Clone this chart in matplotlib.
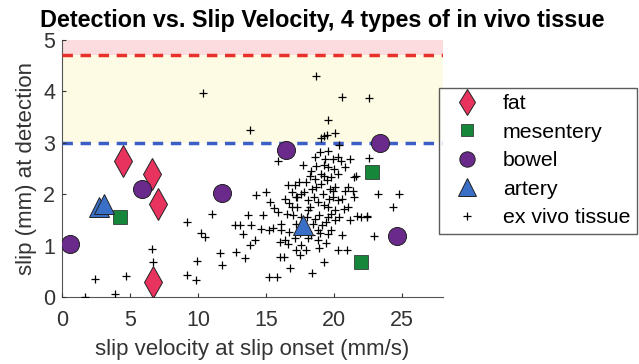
import matplotlib
matplotlib.use('Agg')
from matplotlib import pyplot as plt

plt.rcParams['font.family'] = ['Liberation Sans', 'DejaVu Sans']

# in vivo tissue
fat_x = [4.5, 6.65, 7.05, 6.7]
fat_y = [2.65, 2.40, 1.81, 0.29]
mes_x = [4.3, 22.8, 22.0]
mes_y = [1.56, 2.43, 0.68]
bowel_x = [0.6, 5.9, 11.75, 16.5, 23.4, 24.6]
bowel_y = [1.03, 2.10, 2.02, 2.86, 3.0, 1.19]
artery_x = [2.7, 3.1, 17.7]
artery_y = [1.75, 1.81, 1.41]

# ex vivo tissue
exvivo_x = [2.44, 4.73, 6.63, 6.7, 1.7, 3.92,
            10.4, 18.65, 20.59, 22.59, 19.56, 13.84, 19.06, 19.25, 19.45, 20.1,
            20.35, 15.86, 17.71, 18.57, 19.0, 19.36, 19.56, 20.3, 20.5, 20.8,
            21.2, 21.5, 22.6, 23.2, 24.8, 24.3, 22.96,
            9.2, 10.25, 10.5, 11.06, 9.9, 11.8, 11.6, 9.2, 9.83, 12.78, 13.45,
            12.71, 13.1, 13.3, 13.9, 13.84, 14.2, 13.65, 14.3, 14.75, 14.6,
            15.0, 15.3, 15.6, 15.86, 15.5, 16.1, 15.2, 15.8, 16.06, 16.3, 16.0,
            16.36, 16.6, 16.65, 16.9, 17.1, 17.2, 17.4, 16.8, 17.2, 17.5, 17.6,
            17.96, 18.4, 19.3, 18.1, 18.8, 18.45, 18.6, 18.8, 19.26, 19.56,
            19.9, 20.1, 20.3, 20.74, 21.0, 21.16, 21.4, 21.5, 21.7, 22.4, 20.3,
            20.96, 20.6, 19.56, 19.1, 18.2, 17.96, 18.5, 18.7, 19.06, 19.5,
            19.8, 19.9, 20.3, 19.3, 19.06, 16.7, 16.55, 18.1, 17.6, 17.2, 18.8,
            16.1, 16.7, 15.25, 18.1, 20.05, 19.8, 19.56, 20.8, 21.0, 17.3, 16.9,
            17.6, 18.3, 19.56, 19.9,
            17.3, 17.8, 18.2, 18.6, 18.9, 19.2, 19.4, 19.7, 20.1, 18.0, 17.5,
            18.3, 19.0, 19.8, 20.4, 18.7, 19.3, 20.0, 17.0, 16.4, 18.4, 19.6,
            20.6, 17.7, 18.9, 19.4, 17.1, 22.0, 22.4, 21.6]
exvivo_y = [0.35, 0.41, 0.94, 0.68, 0.0, 0.05,
            3.97, 4.30, 3.90, 3.87, 3.44, 3.24, 3.10, 3.13, 3.16, 3.19,
            2.95, 2.64, 2.56, 2.72, 2.83, 2.69, 2.53, 2.73, 2.65, 2.53,
            2.69, 2.33, 2.71, 2.01, 2.01, 1.75, 1.18,
            1.46, 1.25, 1.16, 1.61, 0.70, 0.62, 0.85, 0.43, 0.34, 0.88, 0.75,
            1.41, 1.41, 1.23, 1.40, 1.01, 1.11, 1.60, 1.99, 1.59, 1.33,
            2.04, 1.85, 1.73, 1.65, 1.34, 1.30, 0.39, 0.38, 0.78, 0.77, 1.07,
            1.10, 1.04, 2.17, 2.04, 2.17, 1.95, 2.23, 0.56, 0.91, 0.81, 1.01,
            0.91, 0.47, 0.69, 1.14, 1.10, 1.43, 1.52, 1.85, 1.80, 1.75,
            1.95, 2.14, 1.88, 1.72, 1.75, 1.49, 2.07, 1.94, 1.57, 1.58, 0.91,
            0.92, 1.20, 1.23, 1.40, 2.35, 2.24, 1.95, 2.14, 2.20, 2.27,
            2.33, 2.07, 2.40, 2.56, 2.40, 1.83, 1.62, 1.69, 1.56, 1.43, 1.30,
            1.43, 1.27, 1.30, 1.88, 1.49, 1.62, 1.56, 2.07, 2.14, 1.75, 1.75,
            2.01, 2.46, 2.85, 2.69,
            1.95, 2.05, 1.75, 2.30, 1.60, 2.00, 1.45, 2.10, 1.70, 1.55, 1.25,
            1.20, 1.25, 1.30, 1.55, 2.55, 2.35, 2.50, 1.60, 1.90, 2.10, 1.90,
            1.90, 1.40, 0.95, 1.05, 1.15, 1.56, 1.56, 2.36]

fig = plt.figure(figsize=(6.39, 3.64), dpi=100)
ax = fig.add_axes([0.097, 0.184, 0.596, 0.706])

ax.axhspan(4.7, 5.0, color='#fcdcdf', zorder=0, lw=0)
ax.axhspan(3.0, 4.7, color='#fdfbe3', zorder=0, lw=0)
ax.axhline(4.7, color='#e8312b', ls=(0, (3, 2.2)), lw=2.5, zorder=1)
ax.axhline(3.0, color='#3b5fc7', ls=(0, (3, 2.2)), lw=2.5, zorder=1)

ax.plot(fat_x, fat_y, 'd', ms=16, mfc='#e8335f', mec='#222222', mew=0.7, ls='none', label='fat', zorder=4)
ax.plot(mes_x, mes_y, 's', ms=10, mfc='#16873a', mec='#222222', mew=0.5, ls='none', label='mesentery', zorder=4)
ax.plot(bowel_x, bowel_y, 'o', ms=13, mfc='#6a2a8c', mec='#222222', mew=0.7, ls='none', label='bowel', zorder=4)
ax.plot(artery_x, artery_y, '^', ms=15, mfc='#3a6fc8', mec='#222222', mew=0.7, ls='none', label='artery', zorder=4)
ax.plot(exvivo_x, exvivo_y, '+', ms=6, color='black', mew=0.9, ls='none', label='ex vivo tissue', zorder=3)

ax.set_xlim(0, 28)
ax.set_ylim(0, 5)
ax.set_xticks([0, 5, 10, 15, 20, 25])
ax.set_yticks([0, 1, 2, 3, 4, 5])
ax.tick_params(direction='in', length=3, labelsize=15.5, colors='#333333', pad=5)
ax.tick_params(axis='x', pad=9)
for s in ['top', 'right']:
    ax.spines[s].set_visible(False)
for s in ['left', 'bottom']:
    ax.spines[s].set_color('#555555')
    ax.spines[s].set_zorder(0.5)

fig.text(0.504, 0.945, 'Detection vs. Slip Velocity, 4 types of in vivo tissue',
         fontsize=16.8, fontweight='bold', ha='center', va='center')
ax.set_xlabel('slip velocity at slip onset (mm/s)', fontsize=16, color='#333333', labelpad=6)
ax.set_ylabel('slip (mm) at detection', fontsize=16, color='#333333', labelpad=4)

leg = ax.legend(loc='upper left', bbox_to_anchor=(0.99, 0.815), fontsize=15.3, frameon=True,
                fancybox=False, edgecolor='#333333', borderpad=0.3, labelspacing=0.45,
                handletextpad=0.7, markerscale=0.85, borderaxespad=0)
leg.get_frame().set_linewidth(1.0)

fig.savefig('out.png', dpi=100)
